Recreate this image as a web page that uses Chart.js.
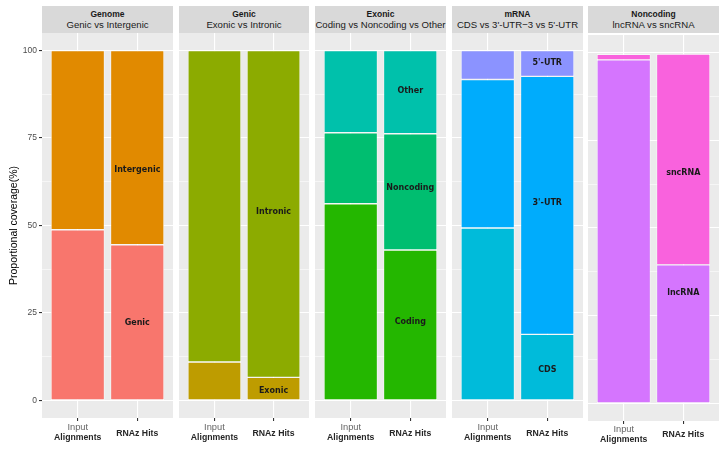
<!DOCTYPE html>
<html><head><meta charset="utf-8">
<script src="https://cdn.jsdelivr.net/npm/chart.js@4.4.1/dist/chart.umd.min.js"></script>
<style>
html,body{margin:0;padding:0;background:#fff;}
#wrap{position:relative;width:726px;height:451px;overflow:hidden;background:#fff;}
.strip{position:absolute;top:6px;height:27px;background:#D9D9D9;color:#1A1A1A;text-align:center;font-family:"Liberation Sans",Arial,sans-serif;}
.strip b{display:block;font-size:8.5px;line-height:10px;margin-top:3px;}
.strip span{display:block;font-size:9.6px;line-height:11px;}
canvas{position:absolute;}
</style></head><body><div id="wrap"></div>
<script>
// ---- data ----
const categories = ['Input Alignments', 'RNAz Hits'];
const xTickTop = ['Input', ''];
const xTickBottom = ['Alignments', 'RNAz Hits'];
const yTicks = [0, 25, 50, 75, 100];

const panelTitles = ['Genome', 'Genic', 'Exonic', 'mRNA', 'Noncoding'];
const panelSubtitles = ['Genic vs Intergenic', 'Exonic vs Intronic', 'Coding vs Noncoding vs Other', "CDS vs 3'-UTR\u22123 vs 5'-UTR", 'lncRNA vs sncRNA'];

const genomeGenic = [48.8, 44.5];
const genomeIntergenic = [51.2, 55.5];
const genicExonic = [11.0, 6.6];
const genicIntronic = [89.0, 93.4];
const exonicCoding = [56.2, 43.0];
const exonicNoncoding = [20.3, 33.2];
const exonicOther = [23.5, 23.8];
const mrnaCDS = [49.3, 18.9];
const mrnaUTR3 = [42.4, 73.7];
const mrnaUTR5 = [8.3, 7.4];
const ncLncRNA = [97.9, 39.5];
const ncSncRNA = [1.6, 60.1];

// label positions (value units) on the RNAz Hits bar
const genomeLabelAt = [22.1, 65.9];
const genicLabelAt = [2.7, 53.9];
const exonicLabelAt = [22.4, 60.7, 88.4];
const mrnaLabelAt = [8.7, 56.4, 96.4];
const ncLabelAt = [31.5, 65.7];

const panels = [
  {series: [['Genic', genomeGenic, '#F8766D'], ['Intergenic', genomeIntergenic, '#E18A00']], labelAt: genomeLabelAt},
  {series: [['Exonic', genicExonic, '#BE9C00'], ['Intronic', genicIntronic, '#8CAB00']], labelAt: genicLabelAt},
  {series: [['Coding', exonicCoding, '#24B700'], ['Noncoding', exonicNoncoding, '#00BE70'], ['Other', exonicOther, '#00C1AB']], labelAt: exonicLabelAt},
  {series: [['CDS', mrnaCDS, '#00BBDA'], ["3'-UTR", mrnaUTR3, '#00ACFC'], ["5'-UTR", mrnaUTR5, '#8B93FF']], labelAt: mrnaLabelAt},
  {series: [['lncRNA', ncLncRNA, '#D575FE'], ['sncRNA', ncSncRNA, '#F962DD']], labelAt: ncLabelAt}
];

// ---- layout ----
const panelLeft = [42, 179, 315, 452, 588];
const panelWidth = [131, 130, 131, 131, 131];
const areaTop = [33, 33, 33, 33, 35];
const areaBottom = [418, 418, 418, 418, 421];
const labelShift = [0, 0, 0, 0, -1.5];
const FONT = '"Liberation Sans", Arial, sans-serif';

const wrap = document.getElementById('wrap');
const minorTicks = [];
for (let k = 0; k < yTicks.length - 1; k++) minorTicks.push((yTicks[k] + yTicks[k + 1]) / 2);
const allY = yTicks.concat(minorTicks).sort((a, b) => a - b);

const bgPlugin = {
  id: 'panelbg',
  beforeDraw(chart) {
    const a = chart.chartArea, c = chart.ctx;
    c.save(); c.fillStyle = '#EBEBEB';
    c.fillRect(a.left, a.top, a.right - a.left, a.bottom - a.top);
    c.restore();
  }
};

panels.forEach((p, i) => {
  const strip = document.createElement('div');
  strip.className = 'strip';
  strip.style.left = panelLeft[i] + 'px';
  strip.style.width = panelWidth[i] + 'px';
  strip.innerHTML = '<b></b><span></span>';
  strip.querySelector('b').textContent = panelTitles[i];
  strip.querySelector('span').textContent = panelSubtitles[i];
  wrap.appendChild(strip);

  const cv = document.createElement('canvas');
  const left = i === 0 ? 0 : panelLeft[i];
  const width = i === 0 ? panelLeft[0] + panelWidth[0] : panelWidth[i];
  const top = areaTop[i];
  const height = 451 - top;
  cv.width = width; cv.height = height;
  cv.style.left = left + 'px'; cv.style.top = top + 'px';
  cv.style.width = width + 'px'; cv.style.height = height + 'px';
  wrap.appendChild(cv);

  const textPlugin = {
    id: 'texts' + i,
    afterDatasetsDraw(chart) {
      const c = chart.ctx, xs = chart.scales.x, ys = chart.scales.y;
      c.save();
      c.font = 'bold 8px "DejaVu Sans"';
      c.fillStyle = '#1A1A1A';
      c.textAlign = 'center'; c.textBaseline = 'middle';
      const xr = xs.getPixelForValue(2);
      p.series.forEach((s, k) => {
        c.fillText(s[0], xr, ys.getPixelForValue(p.labelAt[k]));
      });
      c.restore();
    },
    afterDraw(chart) {
      const c = chart.ctx, xs = chart.scales.x, b = chart.chartArea.bottom + labelShift[i];
      c.save();
      c.textAlign = 'center'; c.textBaseline = 'middle';
      categories.forEach((cat, k) => {
        const x = xs.getPixelForValue(k + 1);
        if (xTickTop[k]) {
          c.font = '9.3px ' + FONT; c.fillStyle = '#666666';
          c.fillText(xTickTop[k], x, b + 9.5);
          c.font = 'bold 8.7px ' + FONT; c.fillStyle = '#262626';
          c.fillText(xTickBottom[k], x, b + 20);
        } else {
          c.font = 'bold 8.7px ' + FONT; c.fillStyle = '#262626';
          c.fillText(xTickBottom[k], x, b + 15.5);
        }
      });
      c.restore();
    }
  };

  new Chart(cv, {
    type: 'bar',
    data: {
      datasets: p.series.map(s => ({
        label: s[0],
        data: s[1].map((v, k) => ({x: k + 1, y: v})),
        backgroundColor: s[2],
        borderColor: '#FFFFFF',
        borderWidth: 0.7,
        borderSkipped: false,
        barPercentage: 0.9,
        categoryPercentage: 1
      }))
    },
    options: {
      responsive: false,
      animation: false,
      devicePixelRatio: 1,
      layout: {padding: 0},
      plugins: {legend: {display: false}, tooltip: {enabled: false}},
      scales: {
        x: {
          type: 'linear', stacked: true, min: 0.4, max: 2.6, offset: false,
          afterBuildTicks: s => { s.ticks = categories.map((c, k) => ({value: k + 1})); },
          afterFit: s => { s.height = 451 - areaBottom[i]; s.paddingLeft = 0; s.paddingRight = 0; },
          ticks: {display: false},
          grid: {offset: false, color: '#FFFFFF', lineWidth: 1.1, tickColor: '#333333', tickLength: 3, drawTicks: true},
          border: {display: false}
        },
        y: {
          type: 'linear', stacked: true, min: -5, max: 105,
          afterBuildTicks: s => { s.ticks = allY.map(v => ({value: v})); },
          afterFit: s => { s.width = i === 0 ? panelLeft[0] : 0; s.paddingTop = 0; s.paddingBottom = 0; },
          ticks: {
            display: i === 0,
            callback: v => yTicks.includes(v) ? String(v) : '',
            color: '#4D4D4D', font: {family: FONT, size: 8.5}, padding: 2
          },
          grid: {
            color: '#FFFFFF',
            lineWidth: ctx => yTicks.includes(ctx.tick.value) ? 1.1 : 0.55,
            tickColor: ctx => (i === 0 && yTicks.includes(ctx.tick.value)) ? '#333333' : 'rgba(0,0,0,0)',
            tickLength: 3,
            drawTicks: i === 0
          },
          border: {display: false},
          title: {
            display: i === 0, text: 'Proportional coverage(%)', color: '#000000',
            font: {family: FONT, size: 10.5}, padding: {top: 8, bottom: 0}
          }
        }
      }
    },
    plugins: [bgPlugin, textPlugin]
  });
});
</script></body></html>
